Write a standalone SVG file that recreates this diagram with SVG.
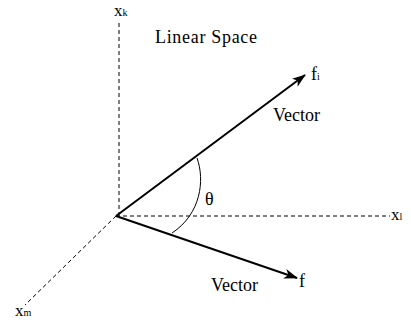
<svg xmlns="http://www.w3.org/2000/svg" width="411" height="322" viewBox="0 0 411 322">
<style>
text{font-family:"Liberation Serif","DejaVu Serif","Times New Roman",serif;fill:#000}
.lbl{font-size:18px}
.ax{font-size:17px}
.sub{font-size:10px}
.axis{stroke:#000;stroke-width:1;stroke-dasharray:4 3;fill:none}
.vec{stroke:#000;stroke-width:2;fill:none}
</style>
<defs>
<marker id="ah" markerWidth="14" markerHeight="10" refX="13" refY="5" orient="auto" markerUnits="userSpaceOnUse">
<path d="M0,0 L14,5 L0,10 L4,5 Z" fill="#000"/>
</marker>
</defs>
<rect width="411" height="322" fill="#fff"/>
<g id="connectors">
<line class="axis" x1="119" y1="216" x2="119" y2="22"/>
<line class="axis" x1="116" y1="216" x2="390" y2="216"/>
<line class="axis" x1="116" y1="216" x2="25" y2="305"/>
<line class="vec" x1="116" y1="216" x2="305" y2="75" marker-end="url(#ah)"/>
<line class="vec" x1="116" y1="216" x2="297" y2="278" marker-end="url(#ah)"/>
<path d="M197,158 C205,180 201,214 172,233" stroke="#000" stroke-width="1" fill="none"/>
</g>
<g id="title"><text class="lbl" x="155" y="43" font-family="Liberation Serif, serif" textLength="102">Linear Space</text></g>
<g id="xk"><text class="ax" x="114" y="16" font-family="Liberation Serif, serif">x<tspan class="sub">k</tspan></text></g>
<g id="xl"><text class="ax" x="391" y="220" font-family="Liberation Serif, serif">x<tspan class="sub">l</tspan></text></g>
<g id="xm"><text class="ax" x="15" y="316" font-family="Liberation Serif, serif">x<tspan class="sub">m</tspan></text></g>
<g id="fi"><text class="lbl" x="311" y="80" font-family="Liberation Serif, serif">f<tspan class="sub">i</tspan></text></g>
<g id="f"><text class="lbl" x="299" y="287" font-family="Liberation Serif, serif">f</text></g>
<g id="vector1"><text class="lbl" x="273" y="121" font-family="Liberation Serif, serif">Vector</text></g>
<g id="vector2"><text class="lbl" x="211" y="291" font-family="Liberation Serif, serif">Vector</text></g>
<g id="theta"><text class="lbl" x="205" y="205" font-family="Liberation Serif, serif">θ</text></g>
</svg>
